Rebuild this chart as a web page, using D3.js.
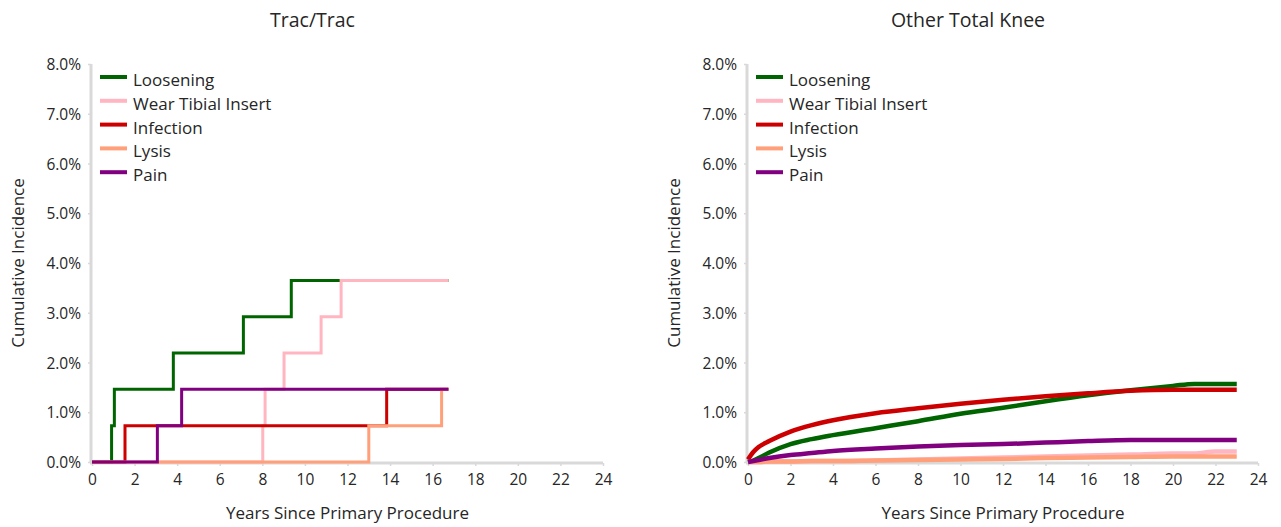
<!DOCTYPE html>
<html><head><meta charset="utf-8">
<script src="https://cdn.jsdelivr.net/npm/d3@7"></script>
<style>
body{margin:0;background:#fff;}
svg text{font-family:"Open Sans","Noto Sans",sans-serif;fill:#262626;}
</style></head><body>
<svg id="c" width="1281" height="527"></svg>
<script>
// ---------- DATA ----------
const seriesNames = ["Loosening","Wear Tibial Insert","Infection","Lysis","Pain"];
const seriesColors = ["#006400","#FFB6C1","#CC0000","#FFA07A","#800080"];
const xTicks = [0,2,4,6,8,10,12,14,16,18,20,22,24];
const yTicks = [0,1,2,3,4,5,6,7,8];

// Trac/Trac (step curves)
const tracLooseningT = [0, 0.92, 1.05, 3.82, 7.11, 9.36, 16.74];
const tracLooseningV = [0, 0.73, 1.46, 2.19, 2.92, 3.65, 3.65];
const tracWearT      = [0, 8.02, 8.13, 9.02, 10.76, 11.70, 16.74];
const tracWearV      = [0, 0.73, 1.46, 2.19, 2.92, 3.65, 3.65];
const tracInfectionT = [0, 1.55, 13.84, 16.74];
const tracInfectionV = [0, 0.73, 1.46, 1.46];
const tracLysisT     = [0, 13.00, 16.42, 16.74];
const tracLysisV     = [0, 0.73, 1.46, 1.46];
const tracPainT      = [0, 3.07, 4.21, 16.74];
const tracPainV      = [0, 0.73, 1.46, 1.46];

// Other Total Knee (smooth curves)
const otherYears     = [0, 0.25, 0.5, 1, 2, 3, 4, 6, 8, 10, 12, 14, 16, 18, 20, 21, 22, 23];
const otherLoosening = [0, 0.03, 0.08, 0.19, 0.36, 0.46, 0.54, 0.68, 0.82, 0.97, 1.09, 1.22, 1.34, 1.44, 1.53, 1.57, 1.57, 1.57];
const otherWear      = [0, 0.00, 0.00, 0.01, 0.01, 0.02, 0.02, 0.03, 0.05, 0.07, 0.09, 0.11, 0.13, 0.15, 0.17, 0.17, 0.21, 0.21];
const otherInfection = [0.05, 0.20, 0.30, 0.42, 0.61, 0.74, 0.84, 0.98, 1.08, 1.17, 1.25, 1.32, 1.38, 1.43, 1.45, 1.45, 1.45, 1.45];
const otherLysis     = [0, 0.00, 0.00, 0.01, 0.01, 0.02, 0.02, 0.03, 0.04, 0.05, 0.06, 0.08, 0.09, 0.10, 0.11, 0.11, 0.11, 0.11];
const otherPain      = [0, 0.02, 0.04, 0.08, 0.14, 0.18, 0.22, 0.27, 0.31, 0.34, 0.36, 0.39, 0.42, 0.44, 0.44, 0.44, 0.44, 0.44];

// ---------- DRAW ----------
const svg = d3.select("#c");
const zip = (t,v) => t.map((x,i)=>[x,v[i]]);

const panels = [
  {title:"Trac/Trac", x0:92, x1:603, step:true, lw:3,
   series:[zip(tracLooseningT,tracLooseningV), zip(tracWearT,tracWearV), zip(tracInfectionT,tracInfectionV), zip(tracLysisT,tracLysisV), zip(tracPainT,tracPainV)]},
  {title:"Other Total Knee", x0:748, x1:1258, step:false, lw:4.5,
   series:[zip(otherYears,otherLoosening), zip(otherYears,otherWear), zip(otherYears,otherInfection), zip(otherYears,otherLysis), zip(otherYears,otherPain)]}
];

panels.forEach(p=>{
  const x = d3.scaleLinear().domain([0,24]).range([p.x0,p.x1]);
  const y = d3.scaleLinear().domain([0,8]).range([462,64]);
  const g = svg.append("g");

  // title
  g.append("text").attr("x",(p.x0+p.x1)/2-35).attr("y",27)
    .attr("text-anchor","middle").style("font-size","19.5px").text(p.title);

  // y axis
  const ya = g.append("g").attr("transform",`translate(${p.x0-1},0)`)
    .call(d3.axisLeft(y).tickValues(yTicks).tickSize(3).tickPadding(7).tickFormat(d=>d.toFixed(1)+"%"));
  ya.select(".domain").attr("stroke","#d9d9d9").attr("stroke-width",3).attr("d",`M0,${y(8)}V${y(0)}`);
  ya.selectAll(".tick line").attr("stroke","#d9d9d9").attr("stroke-width",1.5);
  ya.selectAll(".tick text").style("font-size","15.5px").attr("dy","0.36em").style("fill","#262626");

  // x axis
  const xa = g.append("g").attr("transform",`translate(0,${y(0)+1})`)
    .call(d3.axisBottom(x).tickValues(xTicks).tickSize(3).tickPadding(8).tickFormat(d3.format("d")));
  xa.select(".domain").attr("stroke","#d9d9d9").attr("stroke-width",3).attr("d",`M${p.x0-2},0H${x(24)}`);
  xa.selectAll(".tick line").attr("stroke","#d9d9d9").attr("stroke-width",1.5);
  xa.selectAll(".tick text").style("font-size","15.5px").style("fill","#262626");

  // axis titles
  g.append("text").attr("x",(p.x0+p.x1)/2).attr("y",519).attr("text-anchor","middle")
    .style("font-size","17px").text("Years Since Primary Procedure");
  g.append("text").attr("transform",`translate(${p.x0-68},${y(4)}) rotate(-90)`).attr("text-anchor","middle")
    .style("font-size","17px").text("Cumulative Incidence");

  // lines
  const line = d3.line().x(d=>x(d[0])).y(d=>y(d[1]))
    .curve(p.step ? d3.curveStepAfter : d3.curveMonotoneX);
  p.series.forEach((s,i)=>{
    g.append("path").datum(s).attr("d",line).attr("fill","none")
      .attr("stroke",seriesColors[i]).attr("stroke-width",p.lw).attr("stroke-linejoin","miter");
  });

  // legend
  const lg = g.append("g").attr("transform",`translate(${p.x0+8},0)`);
  seriesNames.forEach((n,i)=>{
    const cy = 77 + i*23.8;
    lg.append("line").attr("x1",0).attr("x2",27).attr("y1",cy).attr("y2",cy)
      .attr("stroke",seriesColors[i]).attr("stroke-width",4);
    lg.append("text").attr("x",33).attr("y",cy+9).style("font-size","17px").text(n);
  });
});
</script></body></html>
